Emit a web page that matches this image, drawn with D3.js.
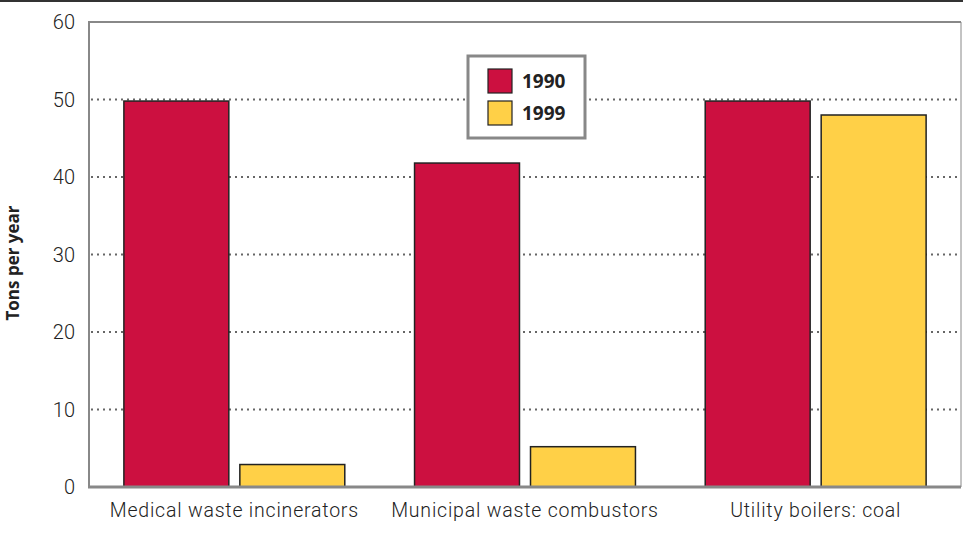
<!DOCTYPE html>
<html>
<head>
<meta charset="utf-8">
<script src="https://cdn.jsdelivr.net/npm/d3@7"></script>
<style>
  body { margin: 0; background: #fff; }
  svg { display: block; }
  .tick-label { font-family: Roboto, sans-serif; font-weight: 300; font-size: 20px; fill: #222; }
  .cat-label { font-family: Roboto, sans-serif; font-weight: 300; font-size: 19.5px; letter-spacing: 0.8px; fill: #222; }
  .axis-title { font-family: "Open Sans", sans-serif; font-weight: 700; font-size: 17px; fill: #222; }
  .legend-text { font-family: "Open Sans", sans-serif; font-weight: 700; font-size: 19px; fill: #222; }
</style>
</head>
<body>
<svg id="chart" width="963" height="535"></svg>
<script>
var categories = ['Medical waste incinerators', 'Municipal waste combustors', 'Utility boilers: coal'];
var seriesNames = ['1990', '1999'];
var values1990 = [49.8, 41.8, 49.8];
var values1999 = [2.9, 5.2, 48.0];
var yTicks = [0, 10, 20, 30, 40, 50, 60];
var colors = ['#cc1040', '#ffd047'];

(function () {
  'use strict';
  var svg = d3.select('#chart');
  var left = 89, right = 961, top = 22, bottom = 487;

  var x0 = d3.scaleBand().domain(categories).range([left, right])
    .paddingInner(0.24).paddingOuter(0.12);
  var x1 = d3.scaleBand().domain(seriesNames).range([0, x0.bandwidth()])
    .paddingInner(0.095).paddingOuter(0);
  var y = d3.scaleLinear().domain([0, 60]).range([bottom, top]);

  // top rule across the page
  svg.append('line').attr('x1', 0).attr('x2', 963).attr('y1', 1).attr('y2', 1)
    .attr('stroke', '#333').attr('stroke-width', 2);

  // dotted gridlines
  svg.append('g').selectAll('line').data(yTicks.filter(function (t) { return t > 0 && t < 60; }))
    .enter().append('line')
    .attr('x1', left + 2).attr('x2', right)
    .attr('y1', function (d) { return y(d); }).attr('y2', function (d) { return y(d); })
    .attr('stroke', '#666').attr('stroke-width', 2).attr('stroke-dasharray', '2,4');

  // frame
  svg.append('line').attr('x1', left).attr('x2', right).attr('y1', top).attr('y2', top)
    .attr('stroke', '#888').attr('stroke-width', 2);
  svg.append('line').attr('x1', right).attr('x2', right).attr('y1', top).attr('y2', bottom)
    .attr('stroke', '#888').attr('stroke-width', 1);
  svg.append('line').attr('x1', left).attr('x2', left).attr('y1', top - 1).attr('y2', bottom)
    .attr('stroke', '#888').attr('stroke-width', 2);

  // bars
  var data = categories.map(function (c, i) {
    return { cat: c, vals: [values1990[i], values1999[i]] };
  });
  var groups = svg.append('g').selectAll('g').data(data).enter().append('g')
    .attr('transform', function (d) { return 'translate(' + x0(d.cat) + ',0)'; });
  groups.selectAll('rect').data(function (d) {
    return d.vals.map(function (v, j) { return { s: seriesNames[j], v: v, j: j }; });
  }).enter().append('rect')
    .attr('x', function (d) { return x1(d.s); })
    .attr('y', function (d) { return y(d.v); })
    .attr('width', x1.bandwidth())
    .attr('height', function (d) { return y(0) - y(d.v); })
    .attr('fill', function (d) { return colors[d.j]; })
    .attr('stroke', '#222').attr('stroke-width', 1.5);

  // bottom axis line
  svg.append('line').attr('x1', left - 1).attr('x2', right).attr('y1', bottom).attr('y2', bottom)
    .attr('stroke', '#888').attr('stroke-width', 3);

  // y tick labels
  svg.append('g').selectAll('text').data(yTicks).enter().append('text')
    .attr('class', 'tick-label')
    .attr('x', 75).attr('y', function (d) { return y(d) + 7; })
    .attr('text-anchor', 'end')
    .text(function (d) { return d; });

  // category labels
  svg.append('g').selectAll('text').data(categories).enter().append('text')
    .attr('class', 'cat-label')
    .attr('x', function (d) { return x0(d) + x0.bandwidth() / 2; })
    .attr('y', 517)
    .attr('text-anchor', 'middle')
    .text(function (d) { return d; });

  // y axis title
  svg.append('text').attr('class', 'axis-title')
    .attr('transform', 'translate(19,263) rotate(-90)')
    .attr('text-anchor', 'middle')
    .text('Tons per year');

  // legend
  var legend = svg.append('g').attr('transform', 'translate(468,56)');
  legend.append('rect').attr('x', 0).attr('y', 0).attr('width', 117).attr('height', 82)
    .attr('fill', '#fff').attr('stroke', '#888').attr('stroke-width', 3);
  var items = legend.selectAll('g.item').data(seriesNames).enter().append('g')
    .attr('class', 'item')
    .attr('transform', function (d, i) { return 'translate(20,' + (13 + i * 32) + ')'; });
  items.append('rect').attr('width', 24).attr('height', 24)
    .attr('fill', function (d, i) { return colors[i]; })
    .attr('stroke', '#222').attr('stroke-width', 1.2);
  items.append('text').attr('class', 'legend-text')
    .attr('x', 34).attr('y', 19)
    .text(function (d) { return d; });
})();
</script>
</body>
</html>
